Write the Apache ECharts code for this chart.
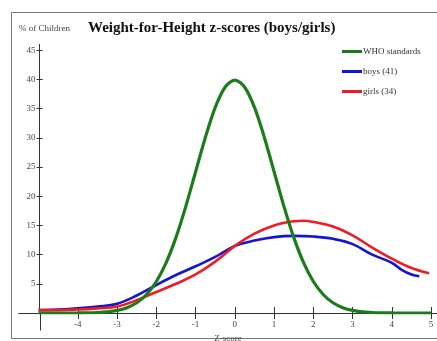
<!DOCTYPE html>
<html>
<head>
<meta charset="utf-8">
<script src="https://cdn.jsdelivr.net/npm/echarts@6/dist/echarts.min.js"></script>
<style>html,body{margin:0;padding:0;background:#fff}#c{width:437px;height:341px}</style>
</head>
<body>
<div id="c"></div>
<script>
// ---- data ----
const xTicks = [-4, -3, -2, -1, 0, 1, 2, 3, 4, 5];
const yTicks = [5, 10, 15, 20, 25, 30, 35, 40, 45];
const seriesNames = ['WHO standards', 'boys (41)', 'girls (34)'];

const whoZ = [-5, -4.5, -4, -3.75, -3.5, -3.25, -3, -2.75, -2.5, -2.25, -2, -1.75, -1.5, -1.25, -1, -0.75, -0.5, -0.25, 0,
  0.25, 0.5, 0.75, 1, 1.25, 1.5, 1.75, 2, 2.25, 2.5, 2.75, 3, 3.25, 3.5, 3.75, 4, 4.5, 5];
const whoVals = [0, 0, 0.01, 0.04, 0.09, 0.2, 0.44, 0.91, 1.75, 3.17, 5.4, 8.63, 12.95, 18.26, 24.2, 30.11, 35.21, 38.67, 39.89,
  38.67, 35.21, 30.11, 24.2, 18.26, 12.95, 8.63, 5.4, 3.17, 1.75, 0.91, 0.44, 0.2, 0.09, 0.04, 0.01, 0, 0];

const boysZ = [-5, -4.5, -4, -3.5, -3, -2.5, -2, -1.5, -1, -0.5, 0, 0.5, 1, 1.5, 2, 2.5, 3, 3.5, 4, 4.25, 4.5, 4.7];
const boysVals = [0.5, 0.6, 0.8, 1.1, 1.6, 3.0, 4.8, 6.5, 8.0, 9.6, 11.5, 12.4, 13.0, 13.2, 13.1, 12.7, 11.8, 10.0, 8.6, 7.4, 6.6, 6.3];

const girlsZ = [-5, -4.5, -4, -3.5, -3, -2.5, -2, -1.5, -1, -0.5, 0, 0.5, 1, 1.5, 1.75, 2, 2.5, 3, 3.5, 4, 4.5, 4.95];
const girlsVals = [0.5, 0.5, 0.6, 0.8, 1.1, 2.2, 3.6, 5.0, 6.6, 8.8, 11.5, 13.6, 15.0, 15.7, 15.8, 15.6, 14.8, 13.3, 11.2, 9.3, 7.7, 6.8];

const colors = ['#1c7c1c', '#1414d4', '#ee1c24'];

const zip = (a, b) => a.map((v, i) => [v, b[i]]);

const serif = 'Liberation Serif';
const chart = echarts.init(document.getElementById('c'));
chart.setOption({
  animation: false,
  backgroundColor: '#fff',
  title: [
    { text: '% of Children', left: 19, top: 24, padding: 0, textStyle: { fontFamily: serif, fontSize: 9, fontWeight: 'normal', color: '#444' } },
    { text: 'Weight-for-Height z-scores (boys/girls)', left: 88, top: 21, padding: 0, textStyle: { fontFamily: serif, fontSize: 15, fontWeight: 'bold', color: '#111' } }
  ],
  legend: {
    orient: 'vertical', left: 337, top: 42, itemGap: 11, itemWidth: 20, itemHeight: 3, icon: 'rect',
    data: seriesNames,
    textStyle: { fontFamily: serif, fontSize: 9, color: '#333', padding: [0, 0, 0, -4] }
  },
  grid: { left: 19, right: 0, top: 44.4, bottom: 28, containLabel: false, outerBoundsMode: 'none' },
  xAxis: [{
    type: 'value', min: -5.5, max: 5.15,
    name: 'Z-score', nameLocation: 'middle', nameGap: 21,
    nameTextStyle: { fontFamily: serif, fontSize: 9, color: '#444' },
    axisLine: { onZero: false, lineStyle: { color: '#333', width: 1 } },
    axisTick: { show: true, length: 6, customValues: xTicks, lineStyle: { color: '#333' } },
    axisLabel: { customValues: xTicks, margin: 7, fontFamily: serif, fontSize: 9, color: '#444' },
    splitLine: { show: false }
  }, {
    type: 'value', min: -5.5, max: 5.15, position: 'bottom',
    axisLine: { onZero: false, lineStyle: { color: '#333', width: 1 } },
    axisTick: { show: true, inside: true, length: 6, customValues: xTicks, lineStyle: { color: '#333' } },
    axisLabel: { show: false },
    splitLine: { show: false }
  }],
  yAxis: [{
    type: 'value', min: 0, max: 46, offset: -20.6,
    axisLine: { show: true, onZero: false, lineStyle: { color: '#333', width: 1 } },
    axisTick: { show: true, length: 3, customValues: yTicks, lineStyle: { color: '#333' } },
    axisLabel: { customValues: yTicks, margin: 4, fontFamily: serif, fontSize: 9, color: '#444' },
    splitLine: { show: false }
  }, {
    type: 'value', min: 0, max: 46, offset: -20.6, position: 'left',
    axisLine: { show: true, onZero: false, lineStyle: { color: '#333', width: 1 } },
    axisTick: { show: true, inside: true, length: 3, customValues: yTicks, lineStyle: { color: '#333' } },
    axisLabel: { show: false },
    splitLine: { show: false }
  }],
  series: [
    { name: seriesNames[0], type: 'line', smooth: 0.3, symbol: 'none', data: zip(whoZ, whoVals),
      lineStyle: { color: colors[0], width: 3.2 }, itemStyle: { color: colors[0] }, z: 3 },
    { name: seriesNames[1], type: 'line', smooth: 0.4, symbol: 'none', data: zip(boysZ, boysVals),
      lineStyle: { color: colors[1], width: 2.6 }, itemStyle: { color: colors[1] }, z: 2 },
    { name: seriesNames[2], type: 'line', smooth: 0.4, symbol: 'none', data: zip(girlsZ, girlsVals),
      lineStyle: { color: colors[2], width: 2.6 }, itemStyle: { color: colors[2] }, z: 2 }
  ],
  graphic: [{
    type: 'rect', shape: { x: 11.5, y: 12.5, width: 440, height: 326 },
    style: { fill: 'none', stroke: '#777', lineWidth: 1 }, silent: true
  }]
});
// extend the y axis line below zero, as in the reference
const g = chart.getModel().getComponent('grid', 0).coordinateSystem.getRect();
const pTop = chart.convertToPixel({ gridIndex: 0 }, [-5, 0]);
const pBot = chart.convertToPixel({ gridIndex: 0 }, [-5, -3]);
const ax = Math.round(g.x + 20.6) + 0.5;
chart.setOption({
  graphic: [{
    type: 'rect', shape: { x: 11.5, y: 12.5, width: 440, height: 326 },
    style: { fill: 'none', stroke: '#777', lineWidth: 1 }, silent: true
  }, {
    type: 'line', shape: { x1: ax, y1: pTop[1], x2: ax, y2: pBot[1] },
    style: { stroke: '#333', lineWidth: 1 }, silent: true
  }]
});
</script>
</body>
</html>
